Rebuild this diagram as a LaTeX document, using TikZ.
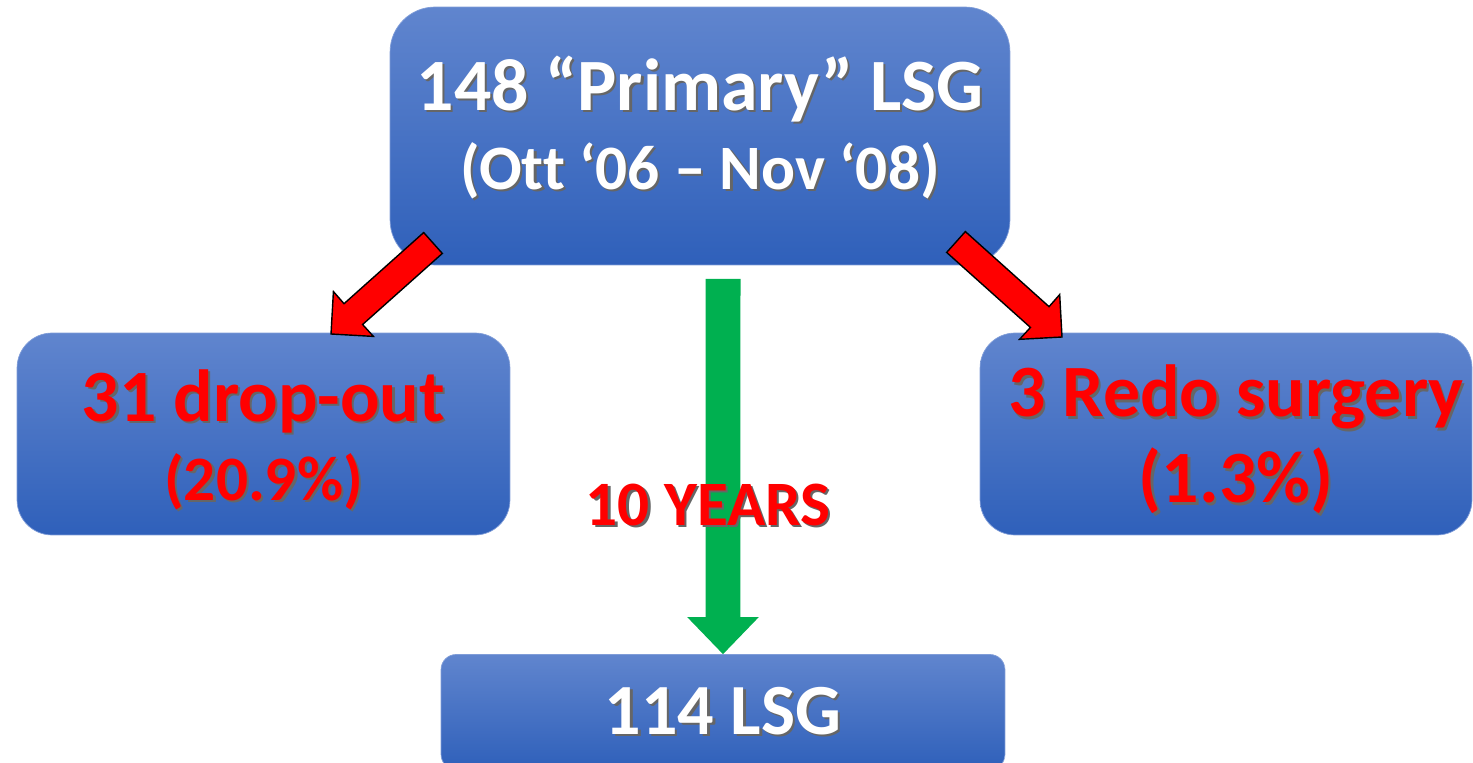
\documentclass[tikz,border=0pt]{standalone}
\usepackage{fontspec}
\setmainfont{Carlito}[Ligatures=NoCommon]
\usepackage{xcolor}
\usetikzlibrary{calc,positioning}
\definecolor{boxtop}{RGB}{96,133,206}
\definecolor{boxbot}{RGB}{47,96,186}
\definecolor{alertred}{RGB}{255,0,0}
\definecolor{yeargreen}{RGB}{0,176,80}

% text with a soft drop shadow
\newcommand\shd[2][white]{{\rlap{\kern1.3pt\raisebox{-1.3pt}{\color{black!60}#2}}\color{#1}#2}}
% block arrow: style, tail, tip, half shaft, neck dist, neck angle, barb dist, barb angle
\newcommand\fatarrow[8]{%
  \path[#1] ($(#2)!#4!-90:(#3)$) -- ($(#3)!#5!#6:(#2)$) -- ($(#3)!#7!#8:(#2)$) -- (#3)
    -- ($(#3)!#7!-#8:(#2)$) -- ($(#3)!#5!-#6:(#2)$) -- ($(#2)!#4!90:(#3)$) -- cycle;}

\begin{document}
\begin{tikzpicture}[x=0.02cm, y=-0.02cm,
    box/.style={rectangle, top color=boxtop, bottom color=boxbot, draw=boxtop!80!white,
      line width=0.4pt, align=center, inner sep=0pt},
    redarrow/.style={fill=alertred, draw=black, line width=0.8pt, line join=miter},
    greenarrow/.style={fill=yeargreen}]
    \useasboundingbox (0,0) rectangle (1473,763);
    \clip (0,0) rectangle (1473,763);

    % Boxes
    \node[box, rounded corners=0.9cm, minimum width=12.4cm, minimum height=5.16cm,
      font=\bfseries\fontsize{42}{45}\selectfont] (primary) at (700,136)
      {\shd{148 “Primary” LSG}\\\fontsize{36}{45}\selectfont\shd{(Ott ‘06 – Nov ‘08)}\rule[-15pt]{0pt}{1pt}};
    \node[box, rounded corners=0.7cm, minimum width=9.86cm, minimum height=4.04cm,
      font=\bfseries\fontsize{42}{45}\selectfont] (dropout) at (263.5,434)
      {\rule{0pt}{37pt}\shd[alertred]{31 drop-out}\\\fontsize{36}{45}\selectfont\shd[alertred]{(20.9\%)}};
    \node[box, rounded corners=0.7cm, minimum width=9.84cm, minimum height=4.04cm,
      font=\bfseries\fontsize{42}{49}\selectfont] (redo) at (1226,434)
      {\hspace*{0.4cm}\rule{0pt}{37pt}\shd[alertred]{3 Redo surgery}\\\hspace*{0.4cm}\shd[alertred]{(1.3\%)}};
    \node[box, rounded corners=0.3cm, minimum width=11.28cm, minimum height=2.3cm,
      font=\bfseries\fontsize{41}{45}\selectfont] (final) at (723,712)
      {\shd{114 LSG}};

    % Arrows
    \coordinate (dropTail) at (433,243);
    \coordinate (dropTip) at (331,334);
    \coordinate (redoTail) at (956,242);
    \coordinate (redoTip) at (1062,337);
    \coordinate (yearsTail) at (723,279);
    \coordinate (yearsTip) at (final.north -| yearsTail);
    \fatarrow{redarrow}{dropTail}{dropTip}{0.28cm}{0.66cm}{25}{0.85cm}{45}
    \fatarrow{redarrow}{redoTail}{redoTip}{0.28cm}{0.66cm}{25}{0.85cm}{45}
    \fatarrow{greenarrow}{yearsTail}{yearsTip}{0.35cm}{0.82cm}{25}{1.03cm}{44}

    % Label
    \node[anchor=base, inner sep=0pt, font=\bfseries\fontsize{36}{40}\selectfont] (years)
      at (708,525) {\shd[alertred]{10 YEARS}};
\end{tikzpicture}
\end{document}
